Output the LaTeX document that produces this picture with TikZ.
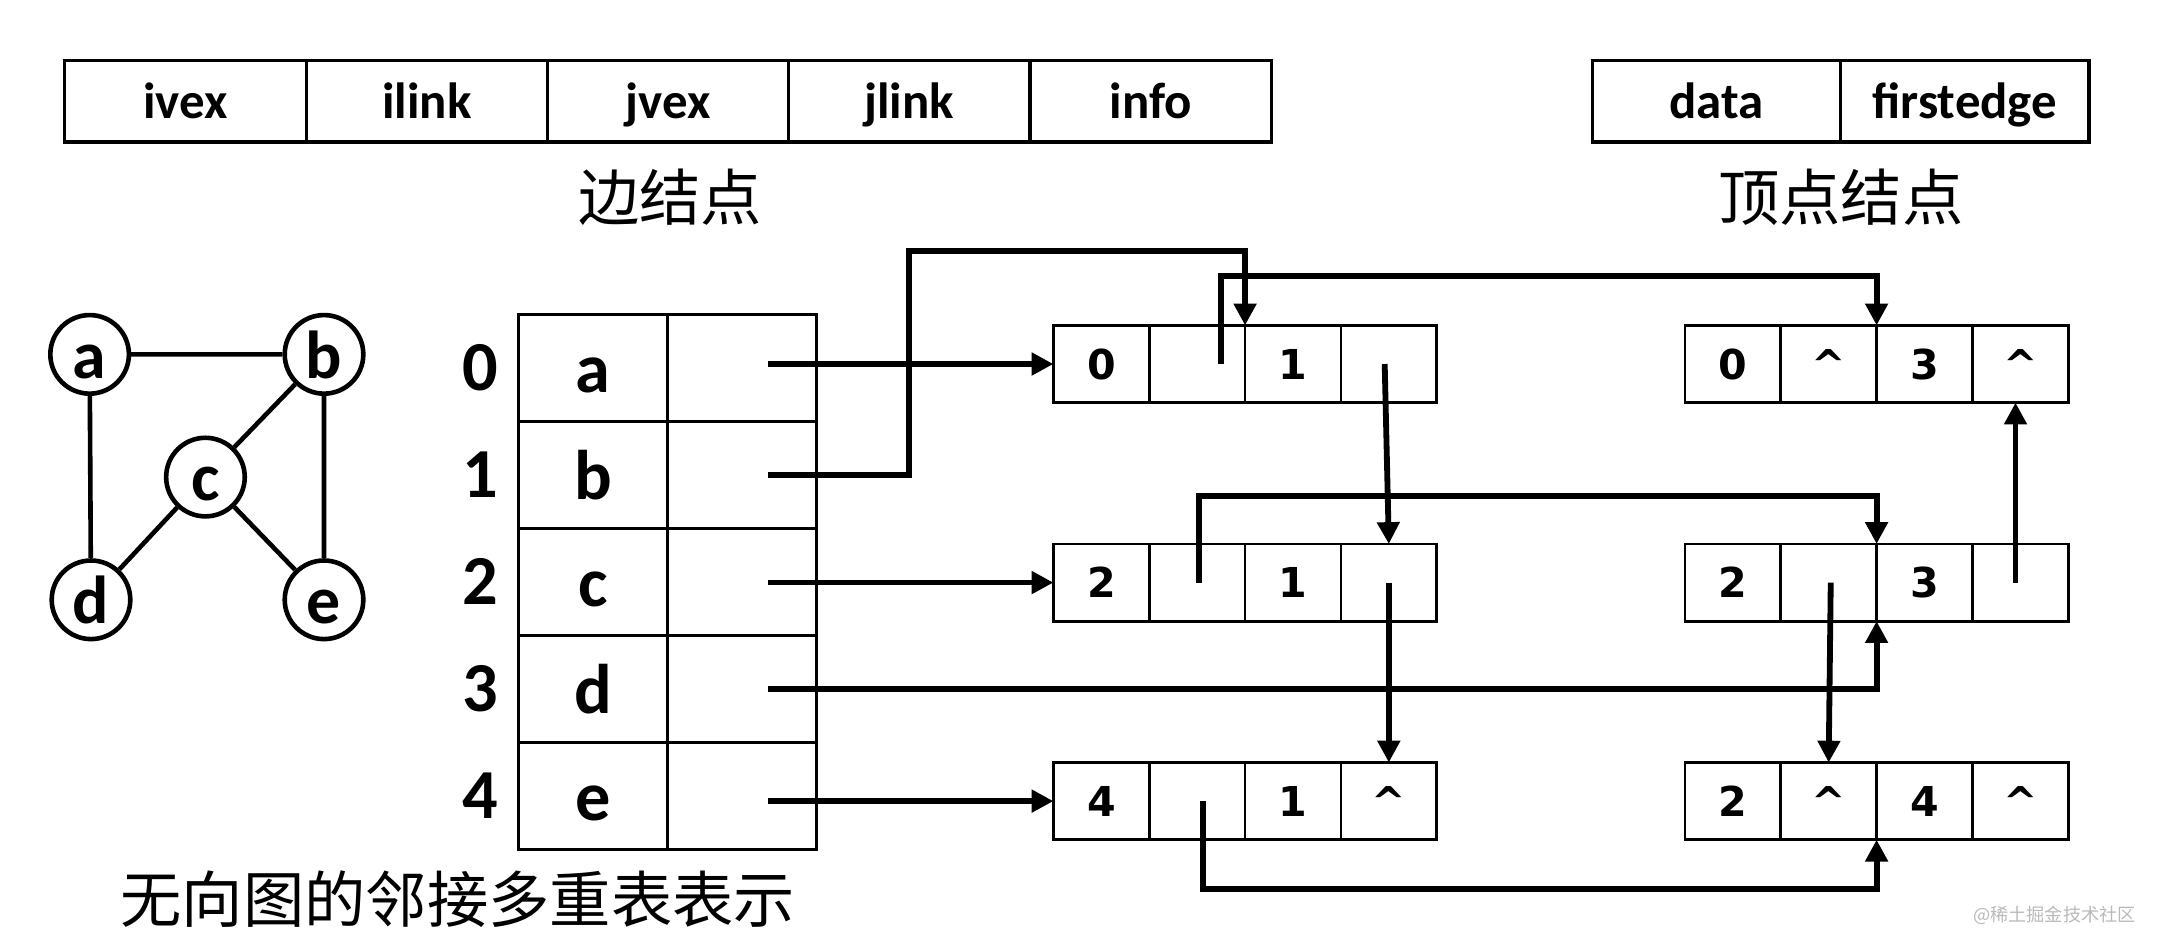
\documentclass[tikz,border=0pt]{standalone}
\usepackage{fontspec}
\setmainfont{Carlito}
\newfontfamily\cjk{Noto Sans CJK SC}
\newfontfamily\dejavu{DejaVu Sans}
\usetikzlibrary{arrows.meta, positioning}

\begin{document}
\begin{tikzpicture}[x=0.2mm, y=-0.2mm,
  head/.style={draw, line width=1.3pt, inner sep=0pt, outer sep=0pt, minimum width=35mm, minimum height=11.8mm, text height=14pt, text depth=0pt, font=\bfseries\fontsize{21}{21}\selectfont},
  cntext/.style={inner sep=0pt, font=\cjk\fontsize{25.3}{26}\selectfont},
  vert/.style={circle, draw, line width=1.9pt, inner sep=0pt, minimum size=11.4mm, text height=19.6pt, text depth=0pt, font=\bfseries\fontsize{28}{28}\selectfont},
  vcell/.style={draw, line width=1.2pt, inner sep=0pt, outer sep=0pt, minimum width=21.6mm, minimum height=15.52mm, text height=20.3pt, text depth=0pt, font=\bfseries\fontsize{29}{29}\selectfont},
  idx/.style={inner sep=0pt, font=\bfseries\fontsize{29}{29}\selectfont},
  cell/.style={draw, line width=1.1pt, inner sep=0pt, outer sep=0pt, minimum width=13.9mm, minimum height=11.2mm, text height=12.4pt, text depth=0pt, font=\dejavu\bfseries\fontsize{17}{17}\selectfont},
  link/.style={line width=2.4pt, -{Triangle[length=9pt, width=9pt]}},
  ]
  \useasboundingbox (0,0) rectangle (1568,689);

  % node layouts
  \foreach \t [count=\i] in {ivex,ilink,jvex,jlink,info}
    \node[head] (h\i) at ({47+175*\i-87.5},73.5) {\t};
  \foreach \t [count=\i] in {data,firstedge}
    \node[head, minimum width=36mm] (g\i) at ({1155+180*\i-90},73.5) {\t};
  \node[cntext] (edgecap) at (486,143) {边结点};
  \node[cntext] (vexcap) at (1335,143) {顶点结点};

  % the graph
  \node[vert] (a) at (65,257) {a};
  \node[vert] (b) at (235,257) {b};
  \node[vert] (c) at (149,346) {c};
  \node[vert] (d) at (66,435) {d};
  \node[vert] (e) at (235,435) {e};
  \draw[line width=1.9pt] (a) -- (b) (a) -- (d) (b) -- (c) (b) -- (e) (c) -- (d) (c) -- (e);

  % vertex table
  \foreach \v [count=\i from 0] in {a,b,c,d,e} {
    \node[vcell] (v\v) at (430,{266.8+77.6*\i}) {\v};
    \node[vcell, right=0pt of v\v] (p\v) {};
    \node[idx] (i\v) at (348,{266.8+77.6*\i}) {\i};
    \coordinate (s\v) at ([xshift=3.8mm]p\v.center);
  }

  % edge nodes
  \foreach \e/\x/\y/\p/\q/\r/\s in {ab/764/264/0/{}/1/{}, cb/764/422.5/2/{}/1/{},
      eb/764/581/4/{}/1/\textasciicircum, ad/1222/264/0/\textasciicircum/3/\textasciicircum,
      cd/1222/422.5/2/{}/3/{}, ce/1222/581/2/\textasciicircum/4/\textasciicircum} {
    \node[cell] (\e1) at ({\x+34.75},\y) {\p};
    \node[cell, right=0pt of \e1] (\e2) {\q};
    \node[cell, right=0pt of \e2] (\e3) {\r};
    \node[cell, right=0pt of \e3] (\e4) {\s};
  }

  % firstedge pointers
  \coordinate (bturn) at (659,182);
  \draw[link] (sa |- ab1.west) -- (ab1.west);
  \draw[link] (sb) -| (bturn) -| (ab2.north east);
  \draw[link] (sc |- cb1.west) -- (cb1.west);
  \draw[link] (sd) -| (cd2.south east);
  \draw[link] (se |- eb1.west) -- (eb1.west);

  % ilink / jlink pointers
  \draw[link] ([xshift=3.5mm]ab2.center) |- ([yshift=7.2mm]ad2.north east) -- (ad2.north east);
  \draw[link] ([xshift=-0.6mm]ab4.center) -- (cb4.north);
  \draw[link] ([xshift=0.3mm]cb2.center) |- ([yshift=7mm]cd2.north east) -- (cd2.north east);
  \draw[link] (cb4.center) -- (eb4.north);
  \draw[link] ([xshift=0.9mm]eb2.center) |- ([yshift=-7.2mm]ce2.south east) -- (ce2.south east);
  \draw[link] ([xshift=0.3mm]cd2.center) -- (ce2.north);
  \draw[link] ([xshift=-0.7mm]cd4.center) -- ([xshift=-0.7mm]ad4.south);

  \node[cntext] (title) at (332,652) {无向图的邻接多重表表示};
  \node[inner sep=0pt, text=gray!55, font=\cjk\fontsize{7.5}{8}\selectfont] (mark) at (1490,664) {@稀土掘金技术社区};
\end{tikzpicture}
\end{document}
